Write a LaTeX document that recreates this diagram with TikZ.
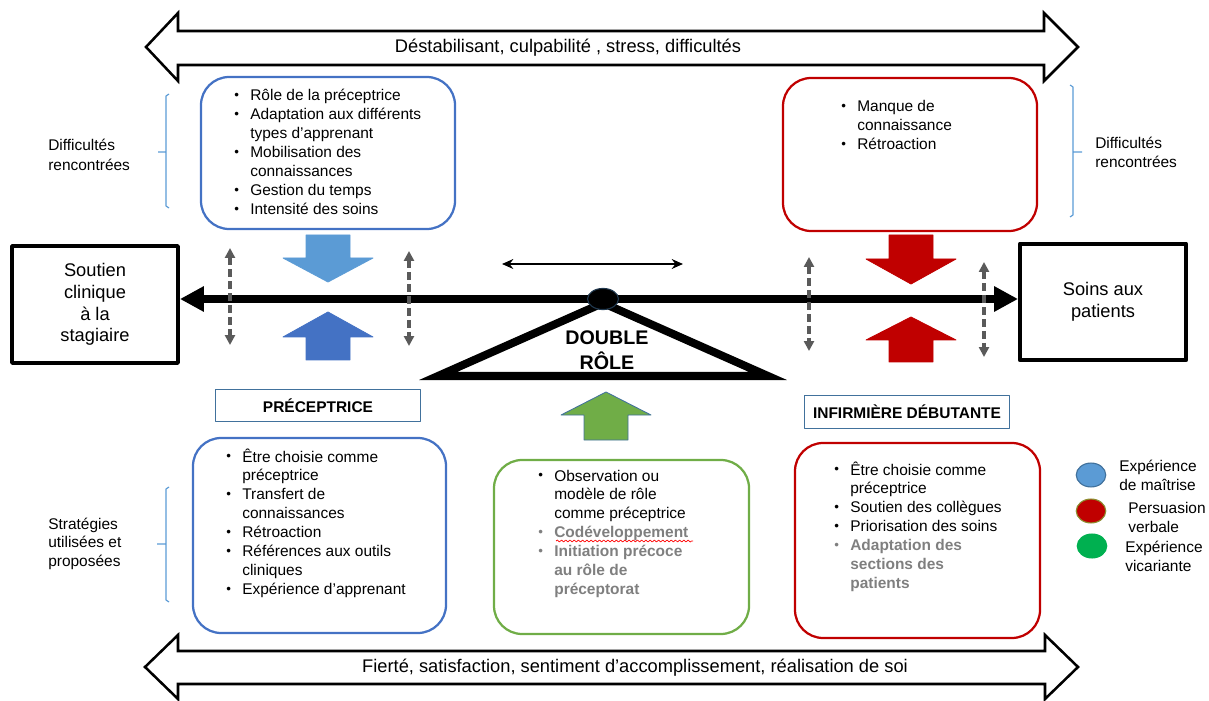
\documentclass[tikz,border=0pt]{standalone}
\usepackage{fontspec}
\setmainfont{Liberation Sans}
\usetikzlibrary{arrows.meta,shapes.geometric,decorations.pathmorphing}
\definecolor{bleu}{HTML}{4472C4}
\definecolor{bleuclair}{HTML}{5B9BD5}
\definecolor{rouge}{HTML}{C00000}
\definecolor{vert}{HTML}{70AD47}
\definecolor{vertvif}{HTML}{00B050}
\definecolor{gristxt}{HTML}{7F7F7F}
\definecolor{grisfl}{HTML}{5A5A5A}
\definecolor{cadre}{HTML}{41719C}
\definecolor{olive}{HTML}{8C8C2E}
\newcommand{\bul}{\makebox[11.4pt][l]{\raisebox{0.9pt}{\fontsize{9.5}{9.5}\selectfont\textbullet}}}
\newcommand{\gbul}{\textcolor{gristxt}{\bul}}
\newcommand{\gb}[1]{\textcolor{gristxt}{\bfseries #1}}

\begin{document}
\begin{tikzpicture}[x=0.025cm,y=-0.025cm,line join=round,
  every node/.style={inner sep=0pt,font=\fontsize{11}{13.5}\selectfont},
  boite/.style={line width=1.6pt,rounded corners=20pt},
  bloc/.style={draw=black,line width=2.8pt,minimum width=118pt,minimum height=83pt,align=center,font=\fontsize{13}{15.5}\selectfont},
  etiquette/.style={draw=cadre,line width=0.8pt,minimum width=146pt,minimum height=23pt,font=\bfseries\fontsize{11}{13}\selectfont},
  liste/.style={anchor=base west},
  note/.style={anchor=west,align=left},
  accolade/.style={draw=bleuclair,line width=0.8pt},
  pointille/.style={draw=grisfl,line width=2.4pt,dash pattern=on 5.5pt off 3pt,{Triangle[length=7pt,width=7pt]}-{Triangle[length=7pt,width=7pt]}},
  fleche/.style={draw=black,line width=1.8pt,fill=white,line join=miter},
  fleau/.style={line width=5.7pt,-{Triangle[length=17pt,width=17pt]}},
  leg/.style={ellipse,minimum width=21pt,minimum height=17pt,line width=0.8pt}]
  \useasboundingbox (0,0) rectangle (1209,701);

  % grandes fleches haut et bas
  \draw[fleche] (146,47) -- (178,13) -- (178,31) -- (1044,31) -- (1044,13) -- (1078,47) -- (1044,81) -- (1044,65) -- (178,65) -- (178,81) -- cycle;
  \node[font=\fontsize{13}{15}\selectfont] (haut) at (568,48) {Déstabilisant, culpabilité , stress, difficultés};
  \draw[fleche] (145,667) -- (178,635) -- (178,651) -- (1045,651) -- (1045,635) -- (1078,667) -- (1045,699) -- (1045,684) -- (178,684) -- (178,699) -- cycle;
  \node[font=\fontsize{13}{15}\selectfont] (bas) at (635,668) {Fierté, satisfaction, sentiment d’accomplissement, réalisation de soi};

  % cadres arrondis
  \draw[boite,draw=bleu] (201,77) rectangle (455,229);
  \draw[boite,draw=rouge] (783,78) rectangle (1037,231);
  \draw[boite,draw=bleu] (193,438) rectangle (446,633);
  \draw[boite,draw=vert] (494,460) rectangle (749,634);
  \draw[boite,draw=rouge] (795,443) rectangle (1040,638);

  % balance
  \node[bloc] (soutien) at (95,304.5) {Soutien\\clinique\\à la\\stagiaire};
  \node[bloc] (soins) at (1103,302) {Soins aux\\patients};
  \coordinate (pv) at (603,299);
  \draw[line width=5.7pt,line join=miter] (603,303) -- (438,376) -- (768,376) -- cycle;
  \draw[fleau] (pv) -- (pv -| soutien.east);
  \draw[fleau] (pv) -- (pv -| soins.west);
  \node[ellipse,fill=black,draw=cadre!50!black,line width=0.8pt,minimum width=22pt,minimum height=15pt] (piv) at (pv) {};
  \node[align=center,font=\bfseries\fontsize{14}{17.5}\selectfont] (double) at (607,350) {DOUBLE\\RÔLE};
  \coordinate (ga) at (502,264); \coordinate (dr) at (683,264);
  \draw[line width=1.4pt,{Stealth[length=8pt,width=7pt]}-{Stealth[length=8pt,width=7pt]}] (ga) -- (dr);
  \foreach \dx/\dh/\db in {230/248/345,409/251/346,809/257/351,984/262/357}
    \draw[pointille] (\dx,\dh) -- (\dx,\db);

  % fleches pleines
  \foreach \cx/\ya/\yb/\yc/\col/\bord in {328/235/258/282/bleuclair/bleuclair,328/360/337/312/bleu/bleu,
      911/235/259/284/rouge/rouge,911/362/340/317/rouge/rouge,606/440/415/392/vert/cadre}
    \filldraw[fill=\col,draw=\bord,line width=0.6pt] ({\cx-22},\ya) -- ({\cx+22},\ya) -- ({\cx+22},\yb) -- ({\cx+45},\yb)
      -- (\cx,\yc) -- ({\cx-45},\yb) -- ({\cx-22},\yb) -- cycle;

  \node[etiquette] (precep) at (318,405.5) {PRÉCEPTRICE};
  \node[etiquette] (infirm) at (907,412) {INFIRMIÈRE DÉBUTANTE};

  % accolades et notes
  \draw[accolade] (169,94) -- (166,96) -- (166,206) -- (169,208) (166,152) -- (158,152);
  \draw[accolade] (1070,85) -- (1073,87) -- (1073,215) -- (1070,217) (1073,152) -- (1082,152);
  \draw[accolade] (169,487) -- (166,489) -- (166,600) -- (169,602) (166,544) -- (157,544);
  \node[note,font=\fontsize{11}{14}\selectfont] (diffg) at (48,155) {Difficultés\\rencontrées};
  \node[note,font=\fontsize{11}{13.5}\selectfont] (diffd) at (1095,152.5) {Difficultés\\rencontrées};
  \node[note,font=\fontsize{11}{13.2}\selectfont] (strat) at (48,543.5) {Stratégies\\utilisées et\\proposées};

  % listes
  \node[liste] (diffprec) at (234,101) {\begin{tabular}[t]{@{}l@{}l@{}}
    \bul&Rôle de la préceptrice\\ \bul&Adaptation aux différents\\ &types d’apprenant\\
    \bul&Mobilisation des\\ &connaissances\\ \bul&Gestion du temps\\ \bul&Intensité des soins\end{tabular}};
  \node[liste] (diffinf) at (841,112) {\begin{tabular}[t]{@{}l@{}l@{}}
    \bul&Manque de\\ &connaissance\\ \bul&Rétroaction\end{tabular}};
  \node[liste] (stratprec) at (226,462) {\begin{tabular}[t]{@{}l@{}l@{}}
    \bul&Être choisie comme\\ &préceptrice\\ \bul&Transfert de\\ &connaissances\\ \bul&Rétroaction\\
    \bul&Références aux outils\\ &cliniques\\ \bul&Expérience d’apprenant\end{tabular}};
  \node[liste] (stratdbl) at (538,481) {\begin{tabular}[t]{@{}l@{}l@{}}
    \bul&Observation ou\\ &modèle de rôle\\ &comme préceptrice\\ \gbul&\gb{Codéveloppement}\\
    \gbul&\gb{Initiation précoce}\\ &\gb{au rôle de}\\ &\gb{préceptorat}\end{tabular}};
  \node[liste] (stratinf) at (834,475) {\begin{tabular}[t]{@{}l@{}l@{}}
    \bul&Être choisie comme\\ &préceptrice\\ \bul&Soutien des collègues\\ \bul&Priorisation des soins\\
    \gbul&\gb{Adaptation des}\\ &\gb{sections des}\\ &\gb{patients}\end{tabular}};
  \draw[red,line width=0.5pt,decorate,decoration={snake,amplitude=0.7pt,segment length=3pt}] (556,541) -- (693,541);

  % legende
  \node[leg,fill=bleuclair,draw=cadre] (lbleu) at (1091,475) {};
  \node[leg,fill=rouge,draw=olive] (lrouge) at (1091,511) {};
  \node[leg,fill=vertvif,draw=vertvif] (lvert) at (1092,546) {};
  \node[note] (tbleu) at (1119,475) {Expérience\\de maîtrise};
  \node[note] (trouge) at (1128,517) {Persuasion\\verbale};
  \node[note] (tvert) at (1125,556.5) {Expérience\\vicariante};
\end{tikzpicture}
\end{document}
